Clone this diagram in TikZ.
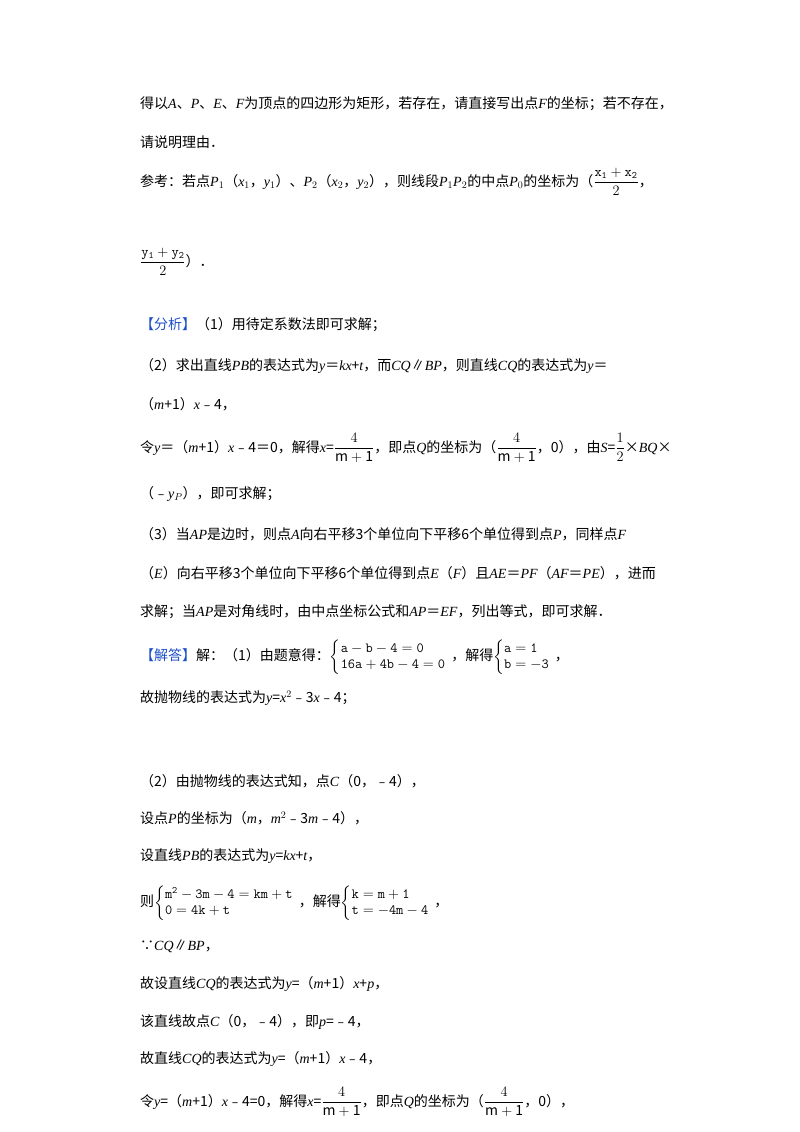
\documentclass[tikz,border=0pt]{standalone}
\usepackage{fontspec}
\usepackage{amsmath}
\setmainfont{Noto Sans CJK SC}
\newfontfamily\lat{Liberation Serif}
\newcommand{\vv}[1]{{\lat\itshape #1}}
\definecolor{fx}{RGB}{30,80,200}
\begin{document}
\begin{tikzpicture}[x=1pt,y=-1pt,
  ln/.style={anchor=west,inner sep=0pt,font=\fontsize{14}{16}\selectfont}]
\useasboundingbox (0,0) rectangle (800,1132);
\node[ln] (l1) at (140,104) {得以\vv{A}、\vv{P}、\vv{E}、\vv{F}为顶点的四边形为矩形，若存在，请直接写出点\vv{F}的坐标；若不存在，};
\node[ln] (l2) at (140,142) {请说明理由．};
\node[ln] (l3) at (140,182) {参考：若点\vv{P}$_1$（\vv{x}$_1$，\vv{y}$_1$）、\vv{P}$_2$（\vv{x}$_2$，\vv{y}$_2$），则线段\vv{P}$_1$\vv{P}$_2$的中点\vv{P}$_0$的坐标为（$\dfrac{\mathtt{x_1+x_2}}{2}$，};
\node[ln] (l4) at (140,262) {$\dfrac{\mathtt{y_1+y_2}}{2}$）．};
\node[ln] (l5) at (140,325) {\textcolor{fx}{【分析】}（1）用待定系数法即可求解；};
\node[ln] (l6) at (140,366) {（2）求出直线\vv{PB}的表达式为\vv{y}＝\vv{kx}+\vv{t}，而\vv{CQ}∥\vv{BP}，则直线\vv{CQ}的表达式为\vv{y}＝};
\node[ln] (l7) at (140,404) {（\vv{m}+1）\vv{x}﹣4，};
\node[ln] (l8) at (140,448) {令\vv{y}＝（\vv{m}+1）\vv{x}﹣4＝0，解得\vv{x}=$\dfrac{4}{\mathrm{m+1}}$，即点\vv{Q}的坐标为（$\dfrac{4}{\mathrm{m+1}}$，0），由\vv{S}=$\dfrac{1}{2}$×\vv{BQ}×};
\node[ln] (l9) at (140,494) {（﹣\vv{y}$_P$），即可求解；};
\node[ln] (l10) at (140,534) {（3）当\vv{AP}是边时，则点\vv{A}向右平移3个单位向下平移6个单位得到点\vv{P}，同样点\vv{F}};
\node[ln] (l11) at (140,573) {（\vv{E}）向右平移3个单位向下平移6个单位得到点\vv{E}（\vv{F}）且\vv{AE}＝\vv{PF}（\vv{AF}＝\vv{PE}），进而};
\node[ln] (l12) at (140,612) {求解；当\vv{AP}是对角线时，由中点坐标公式和\vv{AP}＝\vv{EF}，列出等式，即可求解．};
\node[ln] (l13) at (140,657) {\textcolor{fx}{【解答】}解：（1）由题意得：$\left\{\begin{array}{@{}l}\mathtt{a-b-4=0}\\ \mathtt{16a+4b-4=0}\end{array}\right.$，解得$\left\{\begin{array}{@{}l}\mathtt{a=1}\\ \mathtt{b=-3}\end{array}\right.$，};
\node[ln] (l14) at (140,698) {故抛物线的表达式为\vv{y}=\vv{x}$^2$﹣3\vv{x}﹣4；};
\node[ln] (l15) at (140,781) {（2）由抛物线的表达式知，点\vv{C}（0，﹣4），};
\node[ln] (l16) at (140,818) {设点\vv{P}的坐标为（\vv{m}，\vv{m}$^2$﹣3\vv{m}﹣4），};
\node[ln] (l17) at (140,856) {设直线\vv{PB}的表达式为\vv{y}=\vv{kx}+\vv{t}，};
\node[ln] (l18) at (140,903) {则$\left\{\begin{array}{@{}l}\mathtt{m^2-3m-4=km+t}\\ \mathtt{0=4k+t}\end{array}\right.$，解得$\left\{\begin{array}{@{}l}\mathtt{k=m+1}\\ \mathtt{t=-4m-4}\end{array}\right.$，};
\node[ln] (l19) at (140,946) {∵\vv{CQ}∥\vv{BP}，};
\node[ln] (l20) at (140,984) {故设直线\vv{CQ}的表达式为\vv{y}=（\vv{m}+1）\vv{x}+\vv{p}，};
\node[ln] (l21) at (140,1022) {该直线故点\vv{C}（0，﹣4），即\vv{p}=﹣4，};
\node[ln] (l22) at (140,1059) {故直线\vv{CQ}的表达式为\vv{y}=（\vv{m}+1）\vv{x}﹣4，};
\node[ln] (l23) at (140,1102) {令\vv{y}=（\vv{m}+1）\vv{x}﹣4=0，解得\vv{x}=$\dfrac{4}{\mathrm{m+1}}$，即点\vv{Q}的坐标为（$\dfrac{4}{\mathrm{m+1}}$，0），};
\end{tikzpicture}
\end{document}
